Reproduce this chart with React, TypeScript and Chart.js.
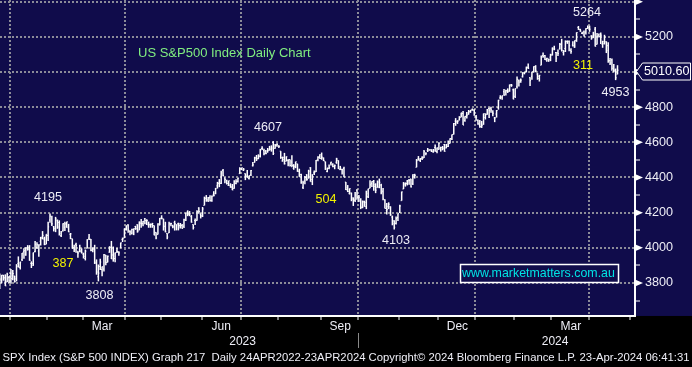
import React, { useEffect, useRef } from "react";
import { Chart, registerables } from "chart.js";

Chart.register(...registerables);

// ---------------- DATA ----------------
const months = [
  "2022-12", "2023-01", "2023-02", "2023-03", "2023-04", "2023-05", "2023-06", "2023-07", "2023-08",
  "2023-09", "2023-10", "2023-11", "2023-12", "2024-01", "2024-02", "2024-03", "2024-04",
];
const tradingDays: number[][] = [
  [22, 23, 27, 28, 29, 30],
  [3, 4, 5, 6, 9, 10, 11, 12, 13, 17, 18, 19, 20, 23, 24, 25, 26, 27, 30, 31],
  [1, 2, 3, 6, 7, 8, 9, 10, 13, 14, 15, 16, 17, 21, 22, 23, 24, 27, 28],
  [1, 2, 3, 6, 7, 8, 9, 10, 13, 14, 15, 16, 17, 20, 21, 22, 23, 24, 27, 28, 29, 30, 31],
  [3, 4, 5, 6, 10, 11, 12, 13, 14, 17, 18, 19, 20, 21, 24, 25, 26, 27, 28],
  [1, 2, 3, 4, 5, 8, 9, 10, 11, 12, 15, 16, 17, 18, 19, 22, 23, 24, 25, 26, 30, 31],
  [1, 2, 5, 6, 7, 8, 9, 12, 13, 14, 15, 16, 20, 21, 22, 23, 26, 27, 28, 29, 30],
  [3, 5, 6, 7, 10, 11, 12, 13, 14, 17, 18, 19, 20, 21, 24, 25, 26, 27, 28, 31],
  [1, 2, 3, 4, 7, 8, 9, 10, 11, 14, 15, 16, 17, 18, 21, 22, 23, 24, 25, 28, 29, 30, 31],
  [1, 5, 6, 7, 8, 11, 12, 13, 14, 15, 18, 19, 20, 21, 22, 25, 26, 27, 28, 29],
  [2, 3, 4, 5, 6, 9, 10, 11, 12, 13, 16, 17, 18, 19, 20, 23, 24, 25, 26, 27, 30, 31],
  [1, 2, 3, 6, 7, 8, 9, 10, 13, 14, 15, 16, 17, 20, 21, 22, 24, 27, 28, 29, 30],
  [1, 4, 5, 6, 7, 8, 11, 12, 13, 14, 15, 18, 19, 20, 21, 22, 26, 27, 28, 29],
  [2, 3, 4, 5, 8, 9, 10, 11, 12, 16, 17, 18, 19, 22, 23, 24, 25, 26, 29, 30, 31],
  [1, 2, 5, 6, 7, 8, 9, 12, 13, 14, 15, 16, 20, 21, 22, 23, 26, 27, 28, 29],
  [1, 4, 5, 6, 7, 8, 11, 12, 13, 14, 15, 18, 19, 20, 21, 22, 25, 26, 27, 28],
  [1, 2, 3, 4, 5, 8, 9, 10, 11, 12, 15, 16, 17, 18, 19, 22],
];
// April 2024 has 22 sessions in total (the May tick sits at the right edge)
const sessionsInFinalMonth = 22;

const opens = [
  3853, 3815, 3843, 3829, 3805, 3830,
  3853, 3840, 3840, 3823, 3910, 3888, 3932, 3977, 3960, 3999, 4003, 3911, 3910, 3979, 4001, 3982, 4037, 4053, 4050, 4020,
  4070, 4158, 4136, 4120, 4106, 4154, 4144, 4069, 4097, 4117, 4119, 4114, 4077, 4052, 4002, 4018, 3974, 3992, 3977,
  3963, 3939, 3998, 4055, 4049, 3987, 3998, 3912, 3835, 3894, 3876, 3879, 3959, 3917, 3975, 4002, 3959, 3939, 3982, 3975, 3999, 4047, 4056,
  4103, 4130, 4094, 4082, 4085, 4121, 4131, 4100, 4140, 4137, 4165, 4139, 4130, 4133, 4132, 4127, 4088, 4075, 4129,
  4167, 4165, 4123, 4082, 4084, 4136, 4124, 4143, 4132, 4138, 4127, 4127, 4123, 4157, 4204, 4191, 4177, 4132, 4155, 4156, 4226, 4191,
  4184, 4241, 4282, 4271, 4285, 4268, 4304, 4308, 4352, 4366, 4366, 4440, 4397, 4380, 4355, 4354, 4344, 4338, 4367, 4378, 4422,
  4450, 4443, 4422, 4405, 4394, 4415, 4467, 4485, 4514, 4508, 4521, 4565, 4554, 4550, 4544, 4556, 4559, 4599, 4566, 4585,
  4579, 4550, 4494, 4514, 4492, 4498, 4502, 4488, 4451, 4459, 4478, 4434, 4417, 4344, 4380, 4416, 4396, 4455, 4389, 4426, 4432, 4500, 4518,
  4531, 4511, 4490, 4434, 4452, 4481, 4473, 4464, 4487, 4497, 4445, 4446, 4452, 4374, 4342, 4310, 4312, 4283, 4270, 4328,
  4284, 4270, 4233, 4260, 4234, 4290, 4339, 4366, 4381, 4360, 4342, 4345, 4357, 4322, 4273, 4211, 4235, 4233, 4175, 4153, 4139, 4172,
  4201, 4268, 4334, 4364, 4366, 4385, 4391, 4365, 4407, 4458, 4505, 4497, 4510, 4511, 4539, 4553, 4555, 4555, 4546, 4571, 4548,
  4560, 4565, 4557, 4587, 4568, 4577, 4593, 4619, 4646, 4721, 4715, 4726, 4743, 4764, 4724, 4753, 4759, 4773, 4786, 4783,
  4745, 4726, 4698, 4690, 4703, 4742, 4760, 4792, 4791, 4772, 4739, 4761, 4797, 4853, 4857, 4888, 4886, 4889, 4892, 4925, 4899,
  4862, 4916, 4950, 4951, 4973, 4995, 5004, 5027, 4968, 4976, 5004, 5032, 4989, 4963, 5039, 5094, 5094, 5074, 5067, 5085,
  5098, 5131, 5111, 5109, 5132, 5164, 5112, 5134, 5174, 5175, 5124, 5154, 5140, 5182, 5254, 5243, 5220, 5228, 5227, 5248,
  5257, 5205, 5194, 5244, 5158, 5211, 5217, 5158, 5173, 5172, 5150, 5065, 5069, 5031, 5006, 4988,
];
const highs = [
  3853, 3845, 3846, 3849, 3858, 3840,
  3879, 3873, 3840, 3907, 3951, 3920, 3970, 3997, 4003, 4015, 4015, 3923, 3973, 4039, 4032, 4020, 4062, 4095, 4063, 4077,
  4148, 4195, 4183, 4124, 4176, 4161, 4156, 4095, 4139, 4148, 4149, 4136, 4084, 4052, 4018, 4029, 3983, 4018, 3997,
  3972, 3990, 4048, 4079, 4050, 4001, 4017, 3934, 3905, 3937, 3894, 3965, 3959, 3956, 4009, 4039, 4007, 3973, 3999, 3980, 4030, 4058, 4110,
  4127, 4134, 4100, 4108, 4110, 4125, 4134, 4150, 4164, 4152, 4170, 4163, 4149, 4138, 4142, 4127, 4089, 4139, 4170,
  4185, 4165, 4148, 4083, 4148, 4143, 4131, 4154, 4133, 4143, 4141, 4135, 4165, 4199, 4213, 4209, 4186, 4133, 4166, 4213, 4231, 4196,
  4232, 4291, 4300, 4289, 4299, 4298, 4322, 4340, 4375, 4391, 4439, 4448, 4400, 4387, 4382, 4367, 4363, 4384, 4390, 4398, 4458,
  4456, 4454, 4423, 4443, 4412, 4443, 4488, 4518, 4528, 4532, 4563, 4578, 4564, 4556, 4568, 4580, 4583, 4607, 4590, 4595,
  4584, 4550, 4519, 4540, 4520, 4504, 4503, 4527, 4476, 4490, 4478, 4450, 4421, 4381, 4408, 4419, 4444, 4459, 4419, 4440, 4500, 4521, 4532,
  4542, 4514, 4491, 4457, 4474, 4490, 4481, 4474, 4512, 4498, 4466, 4450, 4461, 4375, 4357, 4338, 4314, 4287, 4317, 4333,
  4300, 4282, 4269, 4268, 4325, 4336, 4385, 4378, 4386, 4367, 4383, 4394, 4364, 4340, 4276, 4255, 4259, 4236, 4183, 4157, 4178, 4195,
  4245, 4320, 4374, 4372, 4386, 4391, 4393, 4419, 4421, 4505, 4522, 4511, 4521, 4557, 4542, 4568, 4560, 4561, 4562, 4588, 4570,
  4600, 4575, 4579, 4591, 4591, 4610, 4623, 4644, 4710, 4738, 4726, 4749, 4768, 4778, 4749, 4772, 4784, 4785, 4793, 4789,
  4755, 4730, 4727, 4722, 4764, 4765, 4790, 4799, 4802, 4782, 4744, 4784, 4842, 4868, 4866, 4903, 4899, 4907, 4929, 4932, 4906,
  4907, 4975, 4957, 4964, 4999, 5000, 5031, 5048, 4971, 5002, 5033, 5039, 4994, 4983, 5094, 5111, 5097, 5081, 5077, 5104,
  5140, 5149, 5114, 5128, 5165, 5189, 5125, 5180, 5180, 5180, 5136, 5175, 5180, 5226, 5262, 5246, 5229, 5236, 5249, 5265,
  5264, 5209, 5229, 5256, 5222, 5219, 5225, 5178, 5212, 5175, 5169, 5080, 5077, 5046, 5020, 5039,
];
const lows = [
  3765, 3798, 3813, 3783, 3805, 3800,
  3795, 3815, 3802, 3809, 3888, 3877, 3925, 3937, 3954, 3984, 3926, 3885, 3897, 3974, 3994, 3949, 4013, 4048, 4015, 4020,
  4038, 4142, 4124, 4093, 4089, 4108, 4070, 4061, 4092, 4095, 4114, 4089, 4049, 3995, 3976, 3972, 3944, 3974, 3968,
  3939, 3928, 3996, 4044, 3980, 3974, 3908, 3847, 3809, 3874, 3838, 3865, 3901, 3917, 3972, 3936, 3921, 3918, 3970, 3954, 3999, 4033, 4056,
  4098, 4086, 4072, 4076, 4072, 4102, 4086, 4100, 4114, 4123, 4134, 4129, 4114, 4114, 4114, 4071, 4049, 4075, 4128,
  4162, 4098, 4088, 4048, 4084, 4123, 4111, 4098, 4099, 4099, 4110, 4109, 4113, 4153, 4180, 4180, 4143, 4104, 4129, 4154, 4193, 4167,
  4175, 4241, 4262, 4261, 4264, 4262, 4292, 4305, 4337, 4345, 4363, 4407, 4367, 4360, 4352, 4341, 4328, 4336, 4361, 4372, 4422,
  4442, 4437, 4385, 4398, 4389, 4408, 4463, 4485, 4494, 4504, 4514, 4557, 4527, 4532, 4542, 4553, 4547, 4528, 4563, 4575,
  4568, 4506, 4490, 4474, 4492, 4464, 4462, 4458, 4444, 4453, 4432, 4404, 4365, 4335, 4361, 4381, 4394, 4376, 4357, 4414, 4431, 4493, 4507,
  4501, 4493, 4443, 4430, 4447, 4468, 4459, 4447, 4478, 4448, 4442, 4417, 4402, 4329, 4317, 4303, 4265, 4238, 4260, 4274,
  4260, 4220, 4225, 4233, 4220, 4284, 4339, 4346, 4325, 4311, 4342, 4339, 4304, 4270, 4223, 4190, 4220, 4182, 4128, 4104, 4133, 4153,
  4198, 4268, 4334, 4348, 4355, 4359, 4343, 4358, 4394, 4458, 4496, 4488, 4500, 4511, 4526, 4545, 4553, 4545, 4541, 4547, 4538,
  4558, 4547, 4556, 4547, 4566, 4574, 4593, 4614, 4644, 4694, 4705, 4725, 4743, 4698, 4717, 4736, 4758, 4768, 4781, 4751,
  4723, 4700, 4683, 4682, 4700, 4730, 4757, 4739, 4769, 4748, 4715, 4741, 4786, 4845, 4842, 4865, 4866, 4881, 4888, 4916, 4845,
  4853, 4907, 4918, 4939, 4969, 4987, 4998, 5017, 4920, 4956, 4998, 4999, 4956, 4946, 5039, 5082, 5068, 5058, 5058, 5062,
  5094, 5124, 5057, 5092, 5128, 5117, 5094, 5114, 5161, 5118, 5104, 5146, 5138, 5172, 5240, 5229, 5216, 5203, 5213, 5246,
  5229, 5184, 5194, 5146, 5157, 5197, 5160, 5138, 5157, 5108, 5053, 5040, 5008, 4999, 4954, 4987,
];
const closes = [
  3822, 3845, 3829, 3783, 3849, 3840,
  3824, 3853, 3808, 3895, 3892, 3919, 3970, 3983, 3999, 3991, 3929, 3899, 3973, 4020, 4017, 4016, 4060, 4071, 4018, 4077,
  4119, 4180, 4136, 4111, 4164, 4118, 4082, 4090, 4137, 4136, 4148, 4090, 4079, 3997, 3991, 4012, 3970, 3982, 3970,
  3951, 3981, 4046, 4048, 3986, 3992, 3918, 3862, 3856, 3919, 3892, 3960, 3917, 3952, 4003, 3937, 3949, 3971, 3978, 3971, 4028, 4051, 4109,
  4125, 4101, 4090, 4105, 4109, 4109, 4092, 4146, 4138, 4151, 4155, 4155, 4130, 4134, 4137, 4072, 4056, 4135, 4169,
  4168, 4120, 4091, 4061, 4136, 4138, 4119, 4138, 4131, 4124, 4136, 4110, 4159, 4198, 4192, 4193, 4146, 4115, 4151, 4205, 4206, 4180,
  4221, 4282, 4274, 4284, 4268, 4294, 4299, 4339, 4369, 4373, 4426, 4410, 4389, 4366, 4382, 4348, 4329, 4378, 4377, 4396, 4450,
  4456, 4447, 4412, 4399, 4410, 4439, 4472, 4510, 4505, 4523, 4555, 4566, 4535, 4536, 4555, 4567, 4567, 4537, 4582, 4589,
  4577, 4513, 4502, 4478, 4518, 4499, 4468, 4469, 4464, 4490, 4438, 4404, 4370, 4370, 4400, 4388, 4436, 4376, 4406, 4433, 4498, 4515, 4508,
  4516, 4497, 4465, 4451, 4457, 4487, 4462, 4467, 4505, 4450, 4454, 4444, 4402, 4330, 4320, 4337, 4274, 4275, 4300, 4288,
  4288, 4229, 4264, 4258, 4309, 4336, 4358, 4377, 4350, 4328, 4374, 4373, 4315, 4278, 4224, 4217, 4248, 4187, 4137, 4117, 4167, 4194,
  4238, 4318, 4358, 4366, 4378, 4383, 4347, 4415, 4412, 4496, 4503, 4508, 4514, 4547, 4538, 4557, 4559, 4550, 4555, 4551, 4568,
  4595, 4570, 4567, 4549, 4586, 4604, 4622, 4644, 4707, 4720, 4719, 4741, 4768, 4698, 4747, 4755, 4775, 4782, 4783, 4770,
  4743, 4705, 4689, 4697, 4764, 4757, 4783, 4780, 4784, 4766, 4739, 4781, 4840, 4850, 4865, 4869, 4894, 4891, 4928, 4925, 4846,
  4906, 4959, 4943, 4954, 4995, 4998, 5027, 5022, 4953, 5001, 5030, 5006, 4976, 4982, 5087, 5089, 5070, 5078, 5070, 5096,
  5137, 5131, 5079, 5105, 5157, 5124, 5118, 5175, 5165, 5150, 5117, 5149, 5179, 5225, 5242, 5234, 5218, 5204, 5248, 5254,
  5244, 5206, 5211, 5147, 5204, 5202, 5210, 5161, 5199, 5123, 5062, 5051, 5022, 5011, 4967, 5010.6,
];

const priceTicks = [3700, 3800, 3900, 4000, 4100, 4200, 4300, 4400, 4500, 4600, 4700, 4800, 4900, 5000, 5100, 5200, 5300, 5400];
const labeledPrices = [3800, 4000, 4200, 4400, 4600, 4800, 5000, 5200];
const monthLabels: Record<number, string> = { 3: "Mar", 6: "Jun", 9: "Sep", 12: "Dec" };
const quarterMonths = [1, 4, 7, 10];

const chartTitle = "US S&P500 Index Daily Chart";
const footerText =
  "SPX Index (S&P 500 INDEX) Graph 217  Daily 24APR2022-23APR2024 Copyright\u00A9 2024 Bloomberg Finance L.P. 23-Apr-2024 06:41:31";
const watermark = "www.marketmatters.com.au";

// annotation anchors in (session index, price)
const annotations = [
  { text: "4195", x: 19.9, y: 4286, kind: "level" },
  { text: "387", x: 28.0, y: 3913, kind: "move" },
  { text: "3808", x: 47.6, y: 3731, kind: "level" },
  { text: "4607", x: 138.2, y: 4682, kind: "level" },
  { text: "504", x: 169.3, y: 4272, kind: "move" },
  { text: "4103", x: 207.0, y: 4039, kind: "level" },
  { text: "5264", x: 309.6, y: 5336, kind: "level" },
  { text: "311", x: 307.5, y: 5037, kind: "move" },
  { text: "4953", x: 324.9, y: 4881, kind: "level" },
];
const titleAnchor = { x: 68.3, y: 5108 };
const watermarkAnchor = { x: 283.5, y: 3857 };

// view window
const X_MIN = -5.87;
const X_MAX = 335.4;
const Y_MIN = 3612;
const Y_MAX = 5410;

// ---------------- STYLE ----------------
const FONT = "'Liberation Sans', Arial, Helvetica, sans-serif";
const NAVY = "#100c4b";
const GRID = "#8c8c98";
const TEXT = "#eeeef6";
const YELLOW = "#f2f200";
const GREEN = "#80ee80";
const CYAN = "#00e4e4";

// ---------------- DERIVED ----------------
const firstOffset = tradingDays[0].length;
const xs = closes.map((_, i) => i - firstOffset);

type MonthTick = { value: number; month: number; year: number };
const monthTicks: MonthTick[] = (() => {
  const out: MonthTick[] = [];
  let idx = -firstOffset;
  let lastStart = 0;
  months.forEach((m, k) => {
    const [y, mo] = m.split("-").map(Number);
    if (k > 0) out.push({ value: idx - 0.5, month: mo, year: y });
    lastStart = idx;
    idx += tradingDays[k].length;
  });
  const [ly, lm] = months[months.length - 1].split("-").map(Number);
  out.push({ value: lastStart + sessionsInFinalMonth - 0.5, month: lm === 12 ? 1 : lm + 1, year: lm === 12 ? ly + 1 : ly });
  return out;
})();
const monthTickMap = new Map(monthTicks.map((t) => [t.value, t]));

type YearTick = { value: number; label: string; boundary: boolean };
const yearTicks: YearTick[] = (() => {
  const starts = monthTicks.filter((t) => t.month === 1);
  const out: YearTick[] = [];
  starts.forEach((t, k) => {
    const end = k + 1 < starts.length ? starts[k + 1].value : X_MAX;
    out.push({ value: t.value, label: "", boundary: true });
    out.push({ value: (t.value + end) / 2, label: String(t.year), boundary: false });
  });
  return out;
})();
const yearTickMap = new Map(yearTicks.map((t) => [t.value, t]));

const decorPlugin = {
  id: "decor",
  beforeDraw(chart: any) {
    const { ctx, width, height, chartArea } = chart;
    ctx.save();
    ctx.fillStyle = "#000";
    ctx.fillRect(0, 0, width, height);
    ctx.fillStyle = NAVY;
    ctx.fillRect(0, 0, width, chartArea.bottom);
    ctx.restore();
  },
  afterDatasetsDraw(chart: any) {
    const { ctx } = chart;
    const xS = chart.scales.x;
    const yS = chart.scales.y;
    ctx.save();
    ctx.textBaseline = "middle";
    ctx.font = `13px ${FONT}`;
    ctx.fillStyle = GREEN;
    ctx.textAlign = "left";
    ctx.fillText(chartTitle, xS.getPixelForValue(titleAnchor.x), yS.getPixelForValue(titleAnchor.y));
    ctx.font = `12.6px ${FONT}`;
    ctx.textAlign = "center";
    annotations.forEach((a) => {
      ctx.fillStyle = a.kind === "move" ? YELLOW : TEXT;
      ctx.fillText(a.text, xS.getPixelForValue(a.x), yS.getPixelForValue(a.y));
    });
    ctx.font = `12.4px ${FONT}`;
    const wx = xS.getPixelForValue(watermarkAnchor.x);
    const wy = yS.getPixelForValue(watermarkAnchor.y);
    const tw = ctx.measureText(watermark).width;
    const bw = tw + 5;
    const bh = 18;
    ctx.fillStyle = NAVY;
    ctx.fillRect(wx - bw / 2, wy - bh / 2, bw, bh);
    ctx.strokeStyle = "#ffffff";
    ctx.lineWidth = 1.5;
    ctx.strokeRect(Math.round(wx - bw / 2) + 0.5, Math.round(wy - bh / 2) + 0.5, Math.round(bw), bh);
    ctx.fillStyle = CYAN;
    ctx.fillText(watermark, wx, wy + 0.5);
    ctx.restore();
  },
  afterDraw(chart: any) {
    const { ctx, chartArea } = chart;
    const yS = chart.scales.y;
    ctx.save();
    ctx.fillStyle = "#ffffff";
    priceTicks
      .filter((v) => v % 200 === 0)
      .forEach((v) => {
        const py = yS.getPixelForValue(v);
        ctx.beginPath();
        ctx.moveTo(chartArea.right, py - 3.5);
        ctx.lineTo(chartArea.right + 8, py);
        ctx.lineTo(chartArea.right, py + 3.5);
        ctx.closePath();
        ctx.fill();
      });
    const last = closes[closes.length - 1];
    const py = Math.round(yS.getPixelForValue(last) + 1) + 0.5;
    const tip = chartArea.right + 1.5;
    const right = 690.5;
    ctx.beginPath();
    ctx.moveTo(tip, py);
    ctx.lineTo(tip + 6, py - 8.5);
    ctx.lineTo(right, py - 8.5);
    ctx.lineTo(right, py + 8.5);
    ctx.lineTo(tip + 6, py + 8.5);
    ctx.closePath();
    ctx.fillStyle = NAVY;
    ctx.fill();
    ctx.strokeStyle = "#ffffff";
    ctx.lineWidth = 1;
    ctx.stroke();
    ctx.fillStyle = "#ffffff";
    ctx.font = `12.6px ${FONT}`;
    ctx.textAlign = "left";
    ctx.textBaseline = "middle";
    ctx.fillText(last.toFixed(2), tip + 7.5, py);
    ctx.restore();
  },
};

export default function App() {
  const ref = useRef<HTMLCanvasElement>(null);
  useEffect(() => {
    document.body.style.margin = "0";
    document.body.style.background = "#000";
    const canvas = ref.current;
    if (!canvas) return;
    const chart = new Chart(canvas, {
      type: "bar",
      data: {
        datasets: [
          {
            type: "bar",
            label: "High-Low",
            data: xs.map((x, i) => ({ x, y: [lows[i], highs[i]] })) as any,
            backgroundColor: "#ffffff",
            borderWidth: 0,
            barThickness: 1.5,
            inflateAmount: 0,
            grouped: false,
            order: 3,
          } as any,
          {
            type: "line",
            label: "Open",
            data: xs.map((x, i) => ({ x, y: opens[i] })),
            showLine: false,
            pointStyle: "dash",
            pointRotation: 180,
            pointRadius: 1,
            pointBorderColor: "#ffffff",
            pointBackgroundColor: "#ffffff",
            pointBorderWidth: 1,
            order: 2,
          } as any,
          {
            type: "line",
            label: "Close",
            data: xs.map((x, i) => ({ x, y: closes[i] })),
            showLine: false,
            pointStyle: "dash",
            pointRotation: 0,
            pointRadius: 1,
            pointBorderColor: "#ffffff",
            pointBackgroundColor: "#ffffff",
            pointBorderWidth: 1,
            order: 1,
          } as any,
        ],
      },
      options: {
        responsive: false,
        animation: false,
        devicePixelRatio: 1,
        events: [],
        layout: { padding: 0, autoPadding: false },
        plugins: {
          legend: { display: false },
          tooltip: { enabled: false },
          title: {
            display: true,
            position: "bottom",
            text: footerText,
            color: TEXT,
            font: { family: FONT, size: 11.3, weight: "normal", lineHeight: 1.25 },
            padding: { top: 2, bottom: 1.9 },
          },
        },
        scales: {
          x: {
            type: "linear",
            position: "bottom",
            min: X_MIN,
            max: X_MAX,
            offset: false,
            afterBuildTicks: (s: any) => {
              s.ticks = monthTicks.filter((t) => t.value >= X_MIN && t.value <= X_MAX).map((t) => ({ value: t.value }));
            },
            afterFit: (s: any) => {
              s.height = 17;
              s.paddingLeft = 0;
              s.paddingRight = 0;
            },
            grid: {
              offset: false,
              color: (c: any) => {
                const t = c.tick && monthTickMap.get(c.tick.value);
                return t && quarterMonths.includes(t.month) ? GRID : "transparent";
              },
              lineWidth: 2,
              drawTicks: true,
              tickLength: 4,
              tickColor: "#ffffff",
              tickWidth: 1,
            },
            border: { display: true, color: "#ffffff", width: 2, dash: [2, 2] },
            ticks: {
              autoSkip: false,
              maxRotation: 0,
              minRotation: 0,
              labelOffset: 19.5,
              padding: 0,
              color: TEXT,
              font: { family: FONT, size: 12 },
              callback: (v: any) => {
                const t = monthTickMap.get(Number(v));
                return t && monthLabels[t.month] ? monthLabels[t.month] : "";
              },
            },
          },
          x2: {
            type: "linear",
            position: "bottom",
            weight: 1,
            min: X_MIN,
            max: X_MAX,
            offset: false,
            afterBuildTicks: (s: any) => {
              s.ticks = yearTicks.map((t) => ({ value: t.value }));
            },
            afterFit: (s: any) => {
              s.height = 16;
              s.paddingLeft = 0;
              s.paddingRight = 0;
            },
            grid: {
              drawOnChartArea: false,
              drawTicks: true,
              tickLength: 15,
              tickWidth: 1,
              tickColor: (c: any) => {
                const t = c.tick && yearTickMap.get(c.tick.value);
                return t && t.boundary ? "#8a8a8a" : "transparent";
              },
            },
            border: { display: false },
            ticks: {
              autoSkip: false,
              maxRotation: 0,
              minRotation: 0,
              padding: -13,
              color: TEXT,
              font: { family: FONT, size: 12 },
              callback: (v: any) => {
                const t = yearTickMap.get(Number(v));
                return t ? t.label : "";
              },
            },
          },
          y: {
            type: "linear",
            position: "right",
            min: Y_MIN,
            max: Y_MAX,
            beginAtZero: false,
            afterBuildTicks: (s: any) => {
              s.ticks = priceTicks.map((v) => ({ value: v }));
            },
            afterFit: (s: any) => {
              s.width = 57;
              s.paddingTop = 0;
              s.paddingBottom = 0;
            },
            grid: {
              color: (c: any) => (c.tick && c.tick.value % 200 === 0 ? GRID : "transparent"),
              lineWidth: 2,
              drawTicks: true,
              tickLength: 5,
              tickWidth: 1,
              tickColor: (c: any) => (c.tick && c.tick.value % 200 === 0 ? "transparent" : "#ffffff"),
            },
            border: { display: true, color: "#ffffff", width: 2, dash: [2, 2] },
            ticks: {
              autoSkip: false,
              padding: 5,
              color: TEXT,
              font: { family: FONT, size: 12.6 },
              callback: (v: any) => (labeledPrices.includes(Number(v)) ? String(v) : ""),
            },
          },
        },
      } as any,
      plugins: [decorPlugin],
    });
    return () => chart.destroy();
  }, []);

  return (
    <div style={{ position: "fixed", left: 0, top: 0, width: 692, height: 367, background: "#000" }}>
      <canvas ref={ref} width={692} height={367} style={{ display: "block", width: 692, height: 367 }} />
    </div>
  );
}
